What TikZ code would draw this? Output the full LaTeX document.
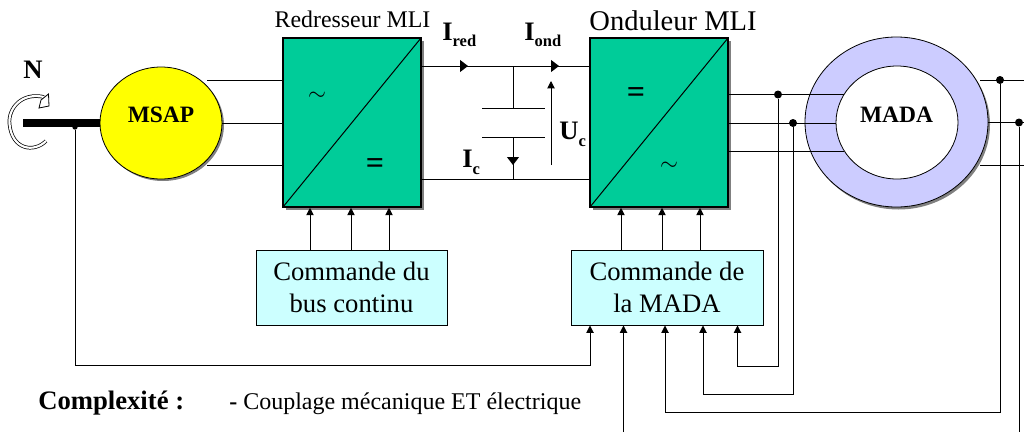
\documentclass[tikz,border=0pt]{standalone}
\usepackage{fontspec}
\setmainfont{Liberation Serif}
\usetikzlibrary{arrows.meta,shapes.geometric}
\definecolor{conv}{RGB}{0,204,153}
\definecolor{ctl}{RGB}{204,255,255}
\definecolor{ring}{RGB}{204,204,255}
\definecolor{shad}{RGB}{128,128,128}
\definecolor{msapy}{RGB}{255,255,0}
\newcommand{\QtySub}[2]{{\fontsize{20}{22}\selectfont\bfseries #1\raisebox{-5.25pt}{\fontsize{12.4}{14}\selectfont\bfseries #2}}}
\tikzset{
 wire/.style={draw=black,line width=0.75pt},
 sig/.style={wire,-{Triangle[length=5.5pt,width=5.5pt]}},
 bus/.style={wire,-{Triangle[length=6pt,width=9pt]}},
 conv/.style={draw=black,line width=0.9pt,fill=conv,minimum width=103.5pt,minimum height=126.75pt,inner sep=0pt,outer sep=0pt},
 ctl/.style={draw=black,line width=0.6pt,fill=ctl,align=center,font=\fontsize{20}{21}\selectfont,inner sep=0pt},
 jdot/.style={circle,fill=black,inner sep=0pt,minimum size=6pt},
 blab/.style={inner sep=0pt,font=\fontsize{17.6}{21}\selectfont\bfseries},
 sym/.style={inner sep=0pt,font=\fontsize{18}{18}\selectfont},
 eqs/.style={inner sep=0pt,font=\fontsize{24}{24}\selectfont\bfseries},
 qty/.style={inner sep=0pt,anchor=base west},
}
\begin{document}
\begin{tikzpicture}[x=0.75pt,y=-0.75pt]
\useasboundingbox (0,0) rectangle (1024,432);
\fill[white] (0,0) rectangle (1024,432);
% shaft
\coordinate (shaftL) at (23,123);
\coordinate (shaftR) at (100,123);
\draw[line width=5.8pt] (shaftL) -- (shaftR);
% rotation arrow
\draw[black,line width=2.7pt] (46,141) .. controls (34,153) and (12,150) .. (9.5,124) .. controls (8,108) and (22,92) .. (44,97);
\draw[white,line width=1.6pt] (46,141) .. controls (34,153) and (12,150) .. (9.5,124) .. controls (8,108) and (22,92) .. (44,97);
\path[draw=black,fill=white,line width=0.6pt] (39,108) -- (49,106) -- (48.5,94) -- (41,100) -- cycle;
% MSAP
\fill[shad] (163,125) ellipse[x radius=61,y radius=56];
\node[ellipse,draw=black,line width=0.6pt,fill=msapy,minimum width=91.5pt,minimum height=84pt,inner sep=0pt,outer sep=0pt] (msap) at (161,123) {};
\node[blab] (msaplab) at (161,115) {MSAP};
% converter shadows
\fill[shad] (286,41) rectangle (424,210);
\fill[shad] (593,41) rectangle (731,210);
\node[conv] (red) at (352,122.5) {};
\node[conv] (ond) at (659,122.5) {};
\draw[wire] (red.south west) -- (red.north east);
\draw[wire] (ond.south west) -- (ond.north east);
\node[sym] (s1) at (317,96) {$\sim$};
\node[eqs] (s2) at (375,166) {=};
\node[eqs] (s3) at (636,95) {=};
\node[sym] (s4) at (669,166) {$\sim$};
% three-phase wires
\coordinate (m1) at (207,80); \coordinate (m2) at (222,123); \coordinate (m3) at (207,165);
\draw[wire] (m1) -- (283,80);
\draw[wire] (m2) -- (283,123);
\draw[wire] (m3) -- (283,165);
% DC bus
\draw[wire] (421,66) -- (590,66);
\draw[wire] (421,179.5) -- (590,179.5);
\draw[bus] (445,66) -- (468,66);
\draw[bus] (540,66) -- (559,66);
\draw[wire] (513,66) -- (513,108);
\draw[wire] (482,108.5) -- (545,108.5);
\draw[wire] (482,137) -- (545,137);
\draw[wire] (513,137) -- (513,179.5);
\draw[bus] (513,150) -- (513,165);
\draw[sig] (551,165) -- (551,81);
% labels
\node[inner sep=0pt,anchor=base,font=\fontsize{17.9}{21}\selectfont] (l1) at (352.5,27) {Redresseur MLI};
\node[inner sep=0pt,anchor=base,font=\fontsize{21.4}{21}\selectfont] (l2) at (673,31) {Onduleur MLI};
\node[qty] (ired) at (442,40) {\QtySub{I}{red}};
\node[qty] (iond) at (524,40) {\QtySub{I}{ond}};
\node[qty] (ic) at (462,167) {\QtySub{I}{c}};
\node[qty] (uc) at (559,139) {\QtySub{U}{c}};
\node[inner sep=0pt,anchor=base,font=\fontsize{20}{21}\selectfont\bfseries] (n) at (33,78) {N};
% MADA
\fill[shad] (898.5,124.5) ellipse[x radius=91.5,y radius=85];
\node[ellipse,draw=black,line width=0.6pt,fill=ring,minimum width=137.25pt,minimum height=127.5pt,inner sep=0pt,outer sep=0pt] (mada) at (896.5,122) {};
\node[ellipse,draw=black,line width=0.6pt,fill=white,minimum width=91.5pt,minimum height=84.75pt,inner sep=0pt,outer sep=0pt] (rotor) at (897,122.5) {};
\node[blab] (madalab) at (896.5,115) {MADA};
\draw[wire] (728,94.5) -- (844,94.5);
\draw[wire] (728,123) -- (836,123);
\draw[wire] (728,151) -- (844,151);
\coordinate (e1) at (980,80); \coordinate (e2) at (988,122.5); \coordinate (e3) at (980,165);
\draw[wire] (e1) -- (1024,80);
\draw[wire] (e2) -- (1024,122.5);
\draw[wire] (e3) -- (1024,165);
\node[jdot] (j1) at (778,94.5) {};
\node[jdot] (j2) at (793,123) {};
\node[jdot] (j3) at (1000,80) {};
\node[jdot] (j4) at (1019,122.5) {};
% control boxes
\node[ctl,minimum width=143.25pt,minimum height=56.25pt] (cbus) at (351.5,287.5) {Commande du\\[3pt]bus continu};
\node[ctl,minimum width=144pt,minimum height=56.25pt] (cmada) at (667,287.5) {Commande de\\[3pt]la MADA};
\foreach \x in {310,351,389} \draw[sig] (\x,250) -- (\x,207.8);
\foreach \x in {621,662,700} \draw[sig] (\x,250) -- (\x,207.8);
% feedback
\node[circle,fill=black,inner sep=0pt,minimum size=4pt] (j0) at (75,127) {};
\draw[sig] (j0) -- (75,365.5) -- (590,365.5) -- (590,325.5);
\draw[sig] (j1) -- (778,366) -- (737.5,366) -- (737.5,325.5);
\draw[sig] (j2) -- (793,394) -- (703,394) -- (703,325.5);
\draw[sig] (j3) -- (1000,412) -- (665,412) -- (665,325.5);
\coordinate (bot) at (623.5,432);
\coordinate (botr) at (1019,432);
\draw[sig] (bot) -- (623.5,325.5);
\draw[wire] (j4) -- (botr);
% bottom text
\node[inner sep=0pt,anchor=base west,font=\fontsize{20}{21}\selectfont\bfseries] (cx) at (38,409) {Complexité :};
\node[inner sep=0pt,anchor=base west,font=\fontsize{18}{21}\selectfont] (cp) at (229,409) {\textbf{-} Couplage mécanique ET électrique};
\end{tikzpicture}
\end{document}
